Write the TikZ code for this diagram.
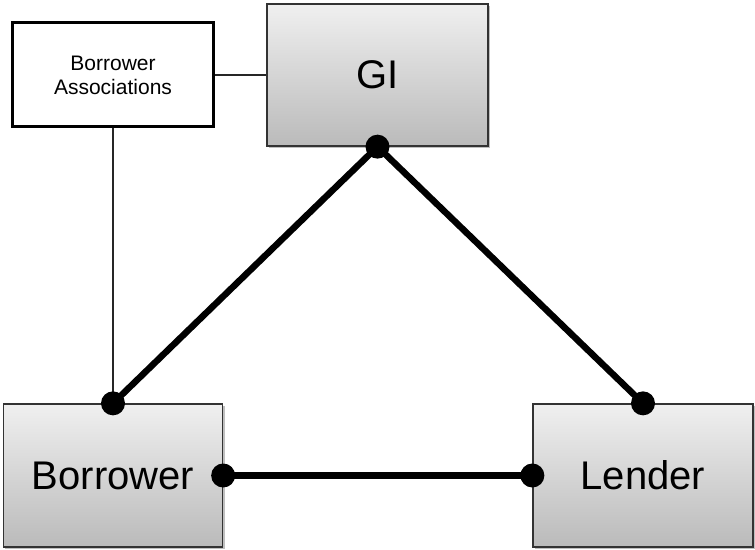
\documentclass[tikz,border=0pt]{standalone}
\usepackage{fontspec}
\setmainfont{Liberation Sans}
\usetikzlibrary{shadows}
\begin{document}
\begin{tikzpicture}[x=1bp,y=-1bp,
  graybox/.style={rectangle, draw=black!80, line width=1.3bp, top color=black!6, bottom color=black!27,
    inner sep=0pt, font=\fontsize{40bp}{46bp}\selectfont,
    drop shadow={shadow xshift=2bp, shadow yshift=-2bp, opacity=0.25, fill=black}},
  assocbox/.style={rectangle, draw=black, line width=3bp, fill=white, inner sep=0pt,
    align=center, font=\fontsize{21bp}{24bp}\selectfont},
  thinline/.style={draw=black!85, line width=1.5bp},
  thickline/.style={draw=black, line width=6.5bp},
  dot/.style={fill=black}]
\useasboundingbox (0,0) rectangle (755,550);
\node[assocbox, minimum width=201bp, minimum height=104bp] (ba) at (113,75) {Borrower\\Associations};
\node[graybox, minimum width=221bp, minimum height=142bp] (gi) at (377.5,75) {GI};
\node[graybox, minimum width=219bp, minimum height=143bp] (bor) at (113,475.5) {Borrower};
\node[graybox, minimum width=220bp, minimum height=143bp] (len) at (643,475.5) {Lender};
\draw[thinline] (ba.east) -- (gi.west);
\draw[thinline] (ba.south) -- (bor.north);
\draw[thickline] (gi.south) -- (bor.north);
\draw[thickline] (gi.south) -- (len.north);
\draw[thickline] (bor.east) -- (len.west);
\fill[dot] (gi.south) circle (12bp);
\fill[dot] (bor.north) circle (12bp);
\fill[dot] (len.north) circle (12bp);
\fill[dot] (bor.east) circle (12bp);
\fill[dot] (len.west) circle (12bp);
\end{tikzpicture}
\end{document}
